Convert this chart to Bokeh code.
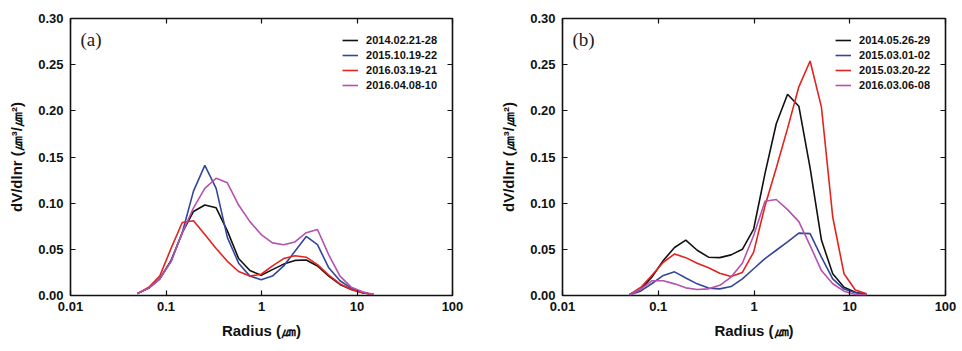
from bokeh.plotting import figure
from bokeh.layouts import row
from bokeh.models import (FixedTicker, NumeralTickFormatter, LinearAxis, LogAxis,
                          Label, Legend, LegendItem, Range1d)
from bokeh.embed import file_html
from bokeh.resources import INLINE

# AERONET size bins (radius, um)
radius = [0.05, 0.066, 0.086, 0.113, 0.148, 0.194, 0.255, 0.335, 0.439, 0.576, 0.756,
          0.992, 1.302, 1.708, 2.241, 2.94, 3.857, 5.061, 6.641, 8.713, 11.43, 15.0]

# Panel (a)
a_names = ["2014.02.21-28", "2015.10.19-22", "2016.03.19-21", "2016.04.08-10"]
a_black = [0.002, 0.008, 0.018, 0.038, 0.068, 0.091, 0.098, 0.095, 0.070, 0.040, 0.027,
           0.022, 0.028, 0.034, 0.038, 0.0385, 0.032, 0.021, 0.012, 0.0065, 0.003, 0.001]
a_blue = [0.002, 0.008, 0.018, 0.037, 0.068, 0.113, 0.141, 0.116, 0.063, 0.035, 0.021,
          0.017, 0.021, 0.032, 0.048, 0.064, 0.055, 0.030, 0.016, 0.008, 0.003, 0.001]
a_red = [0.002, 0.009, 0.021, 0.051, 0.079, 0.081, 0.066, 0.051, 0.037, 0.026, 0.021,
         0.023, 0.032, 0.040, 0.043, 0.0415, 0.0335, 0.022, 0.0126, 0.0065, 0.003, 0.001]
a_magenta = [0.002, 0.008, 0.018, 0.037, 0.068, 0.095, 0.116, 0.127, 0.122, 0.098, 0.080,
             0.066, 0.057, 0.055, 0.058, 0.068, 0.0715, 0.044, 0.021, 0.009, 0.004, 0.001]

# Panel (b)
b_names = ["2014.05.26-29", "2015.03.01-02", "2015.03.20-22", "2016.03.06-08"]
b_black = [0.001, 0.007, 0.020, 0.038, 0.052, 0.060, 0.049, 0.0415, 0.041, 0.044, 0.050,
           0.072, 0.132, 0.186, 0.218, 0.205, 0.138, 0.060, 0.0235, 0.009, 0.0036, 0.001]
b_blue = [0.0005, 0.005, 0.013, 0.0217, 0.0256, 0.019, 0.0126, 0.008, 0.0072, 0.0097, 0.018,
          0.029, 0.040, 0.049, 0.058, 0.0676, 0.067, 0.0415, 0.018, 0.007, 0.003, 0.001]
b_red = [0.001, 0.009, 0.022, 0.036, 0.045, 0.041, 0.035, 0.030, 0.024, 0.0205, 0.025,
         0.047, 0.097, 0.138, 0.181, 0.226, 0.254, 0.204, 0.085, 0.0235, 0.006, 0.002]
b_magenta = [0.0005, 0.007, 0.016, 0.016, 0.0126, 0.0083, 0.0065, 0.0072, 0.011, 0.020, 0.035,
             0.065, 0.102, 0.104, 0.093, 0.080, 0.054, 0.027, 0.0127, 0.0047, 0.001, 0.0005]

x_ticks = [0.01, 0.1, 1, 10, 100]
x_tick_labels = ["0.01", "0.1", "1", "10", "100"]
y_ticks = [0.0, 0.05, 0.10, 0.15, 0.20, 0.25, 0.30]

colors = ["#111111", "#34469c", "#e3231d", "#b452ad"]
FONT = "Liberation Sans"


def make_panel(tag, names, series, width, bl, br):
    p = figure(width=width, height=351, x_axis_type="log",
               x_range=Range1d(0.01, 100), y_range=Range1d(0, 0.30),
               output_backend="svg", toolbar_location=None,
               min_border_left=bl, min_border_right=br,
               min_border_top=18, min_border_bottom=56)
    p.grid.visible = False
    p.outline_line_color = "#111111"
    p.outline_line_width = 1.6
    p.background_fill_color = "white"
    p.border_fill_color = "white"

    items = []
    for name, ys, c in zip(names, series, colors):
        r = p.line(radius, ys, line_color=c, line_width=1.6)
        items.append(LegendItem(label=name, renderers=[r]))

    leg = Legend(items=items, location="top_right", margin=15, padding=0,
                 spacing=1, label_height=14, glyph_height=14, glyph_width=16,
                 label_standoff=8, border_line_color=None,
                 background_fill_alpha=0,
                 label_text_font=FONT, label_text_font_style="bold",
                 label_text_font_size="11px", label_text_color="#111111")
    p.add_layout(leg)

    xa = p.xaxis[0]
    xa.ticker = FixedTicker(ticks=x_ticks, minor_ticks=[])
    xa.major_label_overrides = {t: l for t, l in zip(x_ticks, x_tick_labels)}
    xa.axis_label = "Radius (㎛)"
    ya = p.yaxis[0]
    ya.ticker = FixedTicker(ticks=y_ticks, minor_ticks=[])
    ya.formatter = NumeralTickFormatter(format="0.00")
    ya.axis_label = "dV/dlnr (㎛³/㎛²)"
    for ax in (xa, ya):
        ax.axis_line_color = None
        ax.major_tick_in = 5
        ax.major_tick_out = 0
        ax.minor_tick_line_color = None
        ax.major_tick_line_color = "#111111"
        ax.major_tick_line_width = 1.2
        ax.major_label_text_font = FONT
        ax.major_label_text_font_style = "bold"
        ax.major_label_text_font_size = "13px"
        ax.major_label_text_color = "#111111"
        ax.axis_label_text_font = FONT
        ax.axis_label_text_font_style = "bold"
        ax.axis_label_text_font_size = "15px"
        ax.axis_label_text_color = "#111111"
    xa.major_label_standoff = 6
    xa.axis_label_standoff = 8
    ya.major_label_standoff = 7
    ya.axis_label_standoff = 10

    ra = LinearAxis(ticker=FixedTicker(ticks=y_ticks, minor_ticks=[]),
                    major_label_overrides={t: "" for t in y_ticks})
    ta = LogAxis(ticker=FixedTicker(ticks=x_ticks, minor_ticks=[]),
                 major_label_overrides={t: "" for t in x_ticks})
    for ax in (ra, ta):
        ax.axis_line_color = None
        ax.major_tick_in = 5
        ax.major_tick_out = 0
        ax.major_tick_line_color = "#111111"
        ax.major_tick_line_width = 1.2
        ax.minor_tick_line_color = None
        ax.major_label_text_font_size = "2px"
        ax.major_label_text_color = None
        ax.major_label_standoff = 0
    p.add_layout(ra, "right")
    p.add_layout(ta, "above")

    p.add_layout(Label(x=0.0127, y=0.2777, text=tag, text_font="Liberation Serif",
                       text_font_size="19px", text_color="#222222",
                       text_baseline="middle", text_align="left"))
    return p


pa = make_panel("(a)", a_names, [a_black, a_blue, a_red, a_magenta], 481, 70, 29)
pb = make_panel("(b)", b_names, [b_black, b_blue, b_red, b_magenta], 481, 81, 17)

layout = row(pa, pb)
open("out.html", "w").write(file_html(layout, INLINE))
